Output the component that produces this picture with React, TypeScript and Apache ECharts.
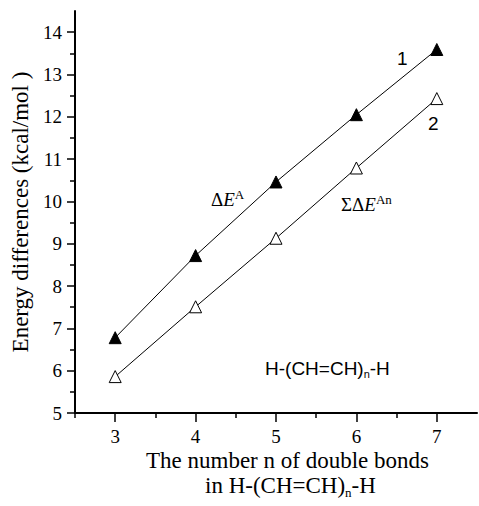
import React, { useEffect, useRef } from "react";
import * as echarts from "echarts";

const nValues = [3, 4, 5, 6, 7];
const deltaEA = [6.78, 8.72, 10.46, 12.05, 13.59];
const sumDeltaEAn = [5.86, 7.51, 9.13, 10.79, 12.43];

const xMajorTicks = [3, 4, 5, 6, 7];
const xMinorTicks = [2.5, 3.5, 4.5, 5.5, 6.5];
const yMajorTicks = [5, 6, 7, 8, 9, 10, 11, 12, 13, 14];
const yMinorTicks = [5.5, 6.5, 7.5, 8.5, 9.5, 10.5, 11.5, 12.5, 13.5];

const SERIF = "Liberation Serif";
const SANS = "Liberation Sans";

export default function App() {
  const ref = useRef<HTMLDivElement>(null);
  useEffect(() => {
    if (!ref.current) return;
    const chart = echarts.init(ref.current, null, { renderer: "svg" });
    const tickLine = { color: "#000", width: 1.5 };
    const labelStyle = { color: "#000", fontFamily: SERIF, fontSize: 19 };
    chart.setOption({
      animation: false,
      backgroundColor: "#fff",
      textStyle: { fontFamily: SERIF, color: "#000" },
      grid: { left: 75, right: 2, top: 11, bottom: 93, containLabel: false },
      xAxis: [
        {
          type: "value",
          position: "bottom",
          min: 2.5,
          max: 7.5,
          axisLine: { show: true, lineStyle: { color: "#000", width: 2 } },
          axisTick: { show: true, inside: false, length: 5, customValues: xMinorTicks, lineStyle: tickLine },
          axisLabel: { show: false },
          splitLine: { show: false },
        },
        {
          type: "value",
          position: "bottom",
          offset: 0,
          min: 2.5,
          max: 7.5,
          axisLine: { show: false },
          axisTick: { show: true, inside: false, length: 9, customValues: xMajorTicks, lineStyle: tickLine },
          axisLabel: { ...labelStyle, margin: 14, customValues: xMajorTicks },
          splitLine: { show: false },
        },
      ],
      yAxis: [
        {
          type: "value",
          position: "left",
          min: 5,
          max: 14.5,
          axisLine: { show: true, lineStyle: { color: "#000", width: 2 } },
          axisTick: { show: true, inside: false, length: 5, customValues: yMinorTicks, lineStyle: tickLine },
          axisLabel: { show: false },
          splitLine: { show: false },
          name: "Energy differences (kcal/mol )",
          nameLocation: "middle",
          nameGap: 43,
          nameRotate: 90,
          nameTextStyle: { color: "#000", fontFamily: SERIF, fontSize: 23 },
        },
        {
          type: "value",
          position: "left",
          offset: 0,
          min: 5,
          max: 14.5,
          axisLine: { show: false },
          axisTick: { show: true, inside: false, length: 8, customValues: yMajorTicks, lineStyle: tickLine },
          axisLabel: { ...labelStyle, margin: 13, customValues: yMajorTicks },
          splitLine: { show: false },
        },
      ],
      series: [
        {
          type: "line",
          xAxisIndex: 0,
          yAxisIndex: 0,
          data: nValues.map((n, i) => [n, deltaEA[i]]),
          symbol: "triangle",
          symbolSize: 12,
          showAllSymbol: true,
          lineStyle: { color: "#000", width: 1 },
          itemStyle: { color: "#000", borderColor: "#000", borderWidth: 1 },
        },
        {
          type: "line",
          xAxisIndex: 0,
          yAxisIndex: 0,
          data: nValues.map((n, i) => [n, sumDeltaEAn[i]]),
          symbol: "triangle",
          symbolSize: 12,
          showAllSymbol: true,
          lineStyle: { color: "#000", width: 1 },
          itemStyle: { color: "#fff", borderColor: "#000", borderWidth: 1 },
        },
      ],
      graphic: [
        { type: "text", left: 397, top: 49, style: { text: "1", font: `19px ${SANS}`, fill: "#000" } },
        { type: "text", left: 428, top: 114, style: { text: "2", font: `19px ${SANS}`, fill: "#000" } },
        {
          type: "text",
          left: 211,
          top: 188,
          style: {
            text: "{a|Δ}{e|E}{s|A}",
            rich: {
              a: { fontFamily: SERIF, fontSize: 19, color: "#000" },
              e: { fontFamily: SERIF, fontSize: 19, fontStyle: "italic", color: "#000" },
              s: { fontFamily: SERIF, fontSize: 13, color: "#000", padding: [0, 0, 10, 0] },
            },
          },
        },
        {
          type: "text",
          left: 341,
          top: 193,
          style: {
            text: "{a|ΣΔ}{e|E}{s|An}",
            rich: {
              a: { fontFamily: SERIF, fontSize: 19, color: "#000" },
              e: { fontFamily: SERIF, fontSize: 19, fontStyle: "italic", color: "#000" },
              s: { fontFamily: SERIF, fontSize: 13, color: "#000", padding: [0, 0, 10, 0] },
            },
          },
        },
        {
          type: "text",
          left: 265,
          top: 359,
          style: {
            text: "{a|H-(CH=CH)}{s|n}{a|-H}",
            rich: {
              a: { fontFamily: SANS, fontSize: 19, color: "#000" },
              s: { fontFamily: SANS, fontSize: 11, color: "#000", padding: [10, 0, 0, 0] },
            },
          },
        },
        {
          type: "text",
          left: 146,
          top: 449,
          style: { text: "The number n of double bonds", font: `23px ${SERIF}`, fill: "#000" },
        },
        {
          type: "text",
          left: 205,
          top: 474,
          style: {
            text: "{a|in H-(CH=CH)}{s|n}{a|-H}",
            rich: {
              a: { fontFamily: SERIF, fontSize: 23, color: "#000" },
              s: { fontFamily: SERIF, fontSize: 13, color: "#000", padding: [14, 0, 0, 0] },
            },
          },
        },
      ],
    });
    return () => chart.dispose();
  }, []);
  return <div ref={ref} style={{ width: 479, height: 506, position: "absolute", left: 0, top: 0 }} />;
}
